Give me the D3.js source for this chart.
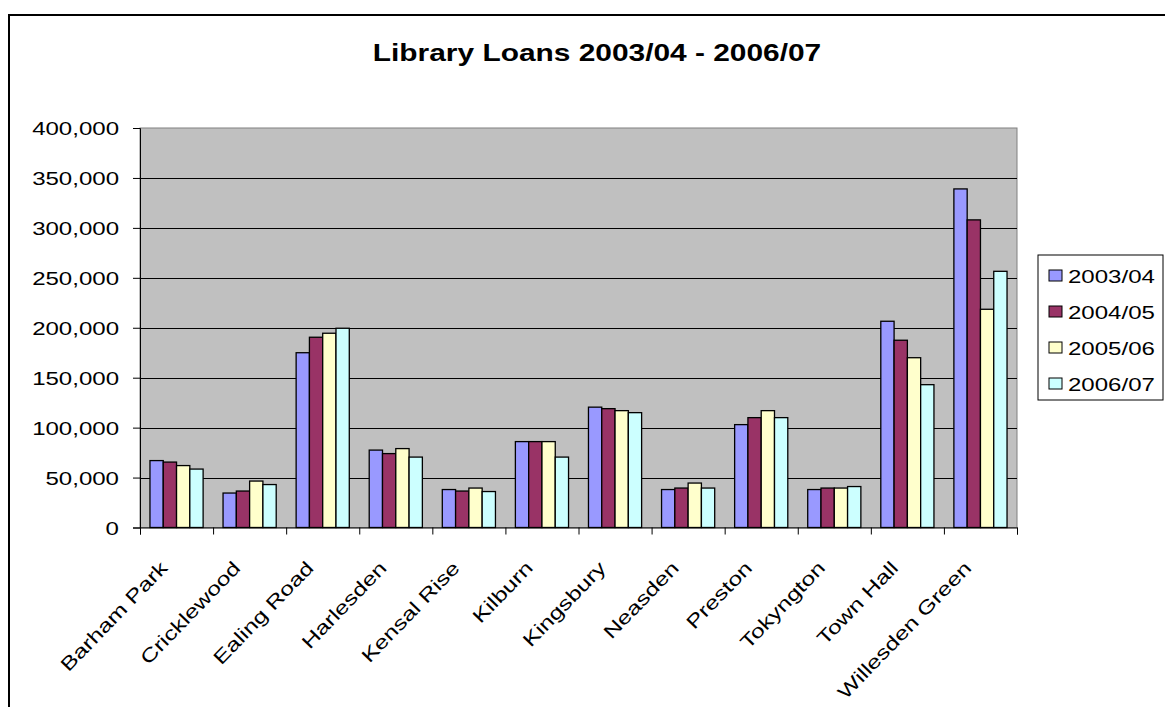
<!DOCTYPE html>
<html>
<head>
<meta charset="utf-8">
<script src="https://cdn.jsdelivr.net/npm/d3@7"></script>
<style>
  html, body { margin: 0; padding: 0; background: #fff; }
  svg { display: block; font-family: "Liberation Sans", Arial, sans-serif; }
</style>
</head>
<body>
<svg id="chart" width="1165" height="707"></svg>
<script>
// Library loans per branch, four financial years
const branches = ["Barham Park", "Cricklewood", "Ealing Road", "Harlesden", "Kensal Rise",
  "Kilburn", "Kingsbury", "Neasden", "Preston", "Tokyngton", "Town Hall", "Willesden Green"];
const years = ["2003/04", "2004/05", "2005/06", "2006/07"];
const loans0304 = [67000, 34500, 175000, 77500, 38000, 86000, 120500, 38000, 103000, 38000, 206500, 339000];
const loans0405 = [65500, 36500, 190500, 74000, 36500, 86000, 119000, 39500, 110000, 39500, 187500, 308000];
const loans0506 = [62000, 46500, 194500, 79000, 39500, 86000, 117000, 44500, 117000, 39500, 170000, 218500];
const loans0607 = [58500, 43000, 199500, 70500, 36000, 70500, 115000, 39500, 110000, 41000, 143000, 256500];
const yTicks = [0, 50000, 100000, 150000, 200000, 250000, 300000, 350000, 400000];
const colors = ["#9999FF", "#993366", "#FFFFCC", "#CCFFFF"];
const title = "Library Loans 2003/04 - 2006/07";

const seriesValues = [loans0304, loans0405, loans0506, loans0607];
const rows = branches.map((b, i) => ({ branch: b, values: years.map((y, k) => ({ year: y, value: seriesValues[k][i] })) }));

const svg = d3.select("#chart");
const plot = { left: 140, right: 1017, top: 128, bottom: 527.5 };
const sx = 1.3; // horizontal widening of the lettering

// outer chart frame
svg.append("rect")
  .attr("x", 9).attr("y", 15).attr("width", 1300).attr("height", 900)
  .attr("fill", "#fff").attr("stroke", "#000").attr("stroke-width", 2);

// title
svg.append("text")
  .attr("transform", `translate(597,61) scale(${sx},1)`)
  .attr("text-anchor", "middle")
  .attr("font-weight", "bold")
  .attr("font-size", 23)
  .text(title);

const x0 = d3.scaleBand().domain(branches).range([plot.left, plot.right]).padding(0);
const x1 = d3.scaleBand().domain(years).range([0, x0.bandwidth()]).paddingInner(0).paddingOuter(0.75);
const y = d3.scaleLinear().domain([0, 400000]).range([plot.bottom, plot.top]);
const color = d3.scaleOrdinal().domain(years).range(colors);
const xEdge = d3.scaleLinear().domain([0, branches.length]).range([plot.left, plot.right]);

// plot background
svg.append("rect")
  .attr("x", plot.left).attr("y", plot.top)
  .attr("width", plot.right - plot.left).attr("height", plot.bottom - plot.top)
  .attr("fill", "#C0C0C0").attr("stroke", "#808080").attr("stroke-width", 1);

// gridlines
svg.append("g")
  .selectAll("line")
  .data(yTicks.filter(t => t > 0 && t < 400000))
  .join("line")
  .attr("x1", plot.left).attr("x2", plot.right)
  .attr("y1", d => Math.round(y(d)) + 0.5).attr("y2", d => Math.round(y(d)) + 0.5)
  .attr("stroke", "#000").attr("stroke-width", 1);

// bars
const groups = svg.append("g").selectAll("g")
  .data(rows)
  .join("g")
  .attr("transform", d => `translate(${x0(d.branch)},0)`);

groups.selectAll("rect")
  .data(d => d.values)
  .join("rect")
  .attr("x", d => x1(d.year))
  .attr("y", d => y(d.value))
  .attr("width", x1.bandwidth())
  .attr("height", d => y(0) - y(d.value))
  .attr("fill", d => color(d.year))
  .attr("stroke", "#000")
  .attr("stroke-width", 1.3);

// y axis
const yAxis = svg.append("g")
  .attr("transform", `translate(${plot.left},0)`)
  .call(d3.axisLeft(y).tickValues(yTicks).tickSize(7).tickFormat(d3.format(",")));
yAxis.select(".domain").attr("stroke", "#000");
yAxis.selectAll(".tick line").attr("stroke", "#000");
yAxis.selectAll(".tick text")
  .attr("x", null).attr("dy", null)
  .attr("transform", `translate(-21,0) scale(${sx},1)`)
  .attr("dy", "0.36em")
  .attr("font-size", 18.5)
  .attr("font-family", "Liberation Sans, Arial, sans-serif")
  .attr("fill", "#000");

// x axis with ticks at branch boundaries
const xAxis = svg.append("g")
  .attr("transform", `translate(0,${plot.bottom})`)
  .call(d3.axisBottom(xEdge).tickValues(d3.range(branches.length + 1)).tickSize(7).tickFormat(""));
xAxis.select(".domain").attr("stroke", "#000");
xAxis.selectAll(".tick line").attr("stroke", "#000");

// rotated branch labels
svg.append("g")
  .selectAll("text")
  .data(branches)
  .join("text")
  .attr("transform", d => `translate(${x0(d) + x0.bandwidth() / 2 - 8},569) rotate(-46) scale(1.3,1)`)
  .attr("text-anchor", "end")
  .attr("font-size", 19)
  .text(d => d);

// legend
const legend = svg.append("g");
legend.append("rect")
  .attr("x", 1038).attr("y", 255).attr("width", 125).attr("height", 145)
  .attr("fill", "#fff").attr("stroke", "#000").attr("stroke-width", 1);
const items = legend.selectAll("g.item")
  .data(years)
  .join("g")
  .attr("class", "item")
  .attr("transform", (d, i) => `translate(0,${276 + i * 36})`);
items.append("rect")
  .attr("x", 1049).attr("y", -6).attr("width", 13).attr("height", 11)
  .attr("fill", d => color(d)).attr("stroke", "#000").attr("stroke-width", 1);
items.append("text")
  .attr("transform", `translate(1068,0) scale(${sx},1)`)
  .attr("dy", "0.36em")
  .attr("font-size", 18.5)
  .text(d => d);
</script>
</body>
</html>
